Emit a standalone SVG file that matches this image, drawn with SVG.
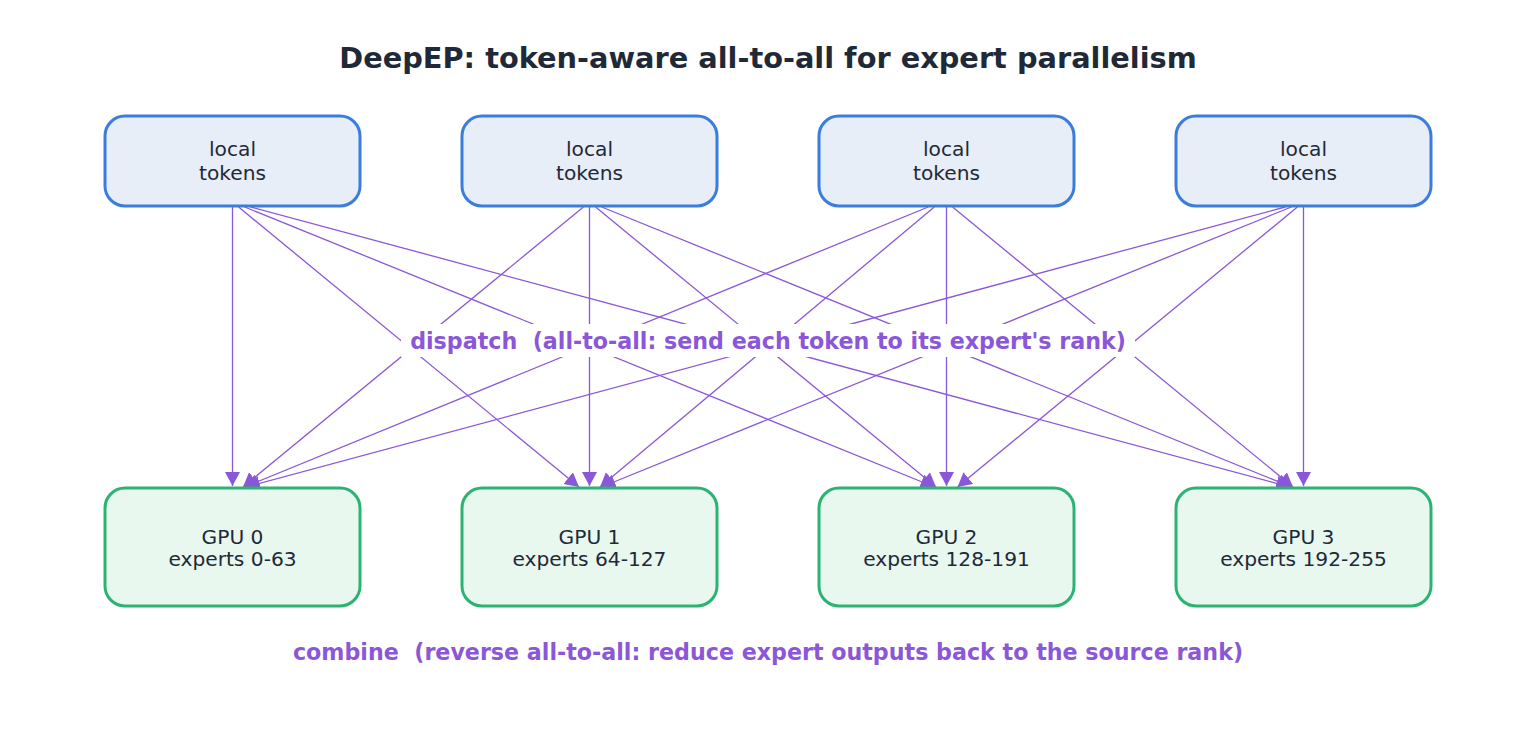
<svg xmlns="http://www.w3.org/2000/svg" width="1536" height="737" viewBox="0 0 1536 737">
<style>
.title{font-family:"DejaVu Sans",sans-serif;font-weight:bold;font-size:28.8px;fill:#1f2937;text-anchor:middle}
.lbl{font-family:"DejaVu Sans",sans-serif;font-size:20.2px;fill:#1f2937;text-anchor:middle}
.note{font-family:"DejaVu Sans",sans-serif;font-weight:bold;font-size:22.2px;fill:#8b57d9;text-anchor:middle;white-space:pre}
.src{fill:#e7eef8;stroke:#3b7ddd;stroke-width:3}
.gpu{fill:#e8f8ef;stroke:#2cb373;stroke-width:3}
.edge{stroke:#8b57d9;stroke-width:1.3;fill:none;marker-end:url(#arr)}
</style>
<defs>
<marker id="arr" markerUnits="userSpaceOnUse" markerWidth="16" markerHeight="16" refX="14" refY="7.5" orient="auto">
<path d="M0,0 L14,7.5 L0,15 Z" fill="#8b57d9"/>
</marker>
</defs>
<rect width="1536" height="737" fill="#ffffff"/>
<text class="title" x="768" y="68">DeepEP: token-aware all-to-all for expert parallelism</text>
<g id="connectors">
<line class="edge" x1="232.5" y1="207" x2="232.5" y2="486"/>
<line class="edge" x1="238.6" y1="207" x2="579" y2="487"/>
<line class="edge" x1="244.7" y1="207" x2="934.5" y2="487"/>
<line class="edge" x1="250.8" y1="207" x2="1290" y2="487"/>
<line class="edge" x1="583.4" y1="207" x2="243" y2="487"/>
<line class="edge" x1="589.5" y1="207" x2="589.5" y2="486"/>
<line class="edge" x1="595.6" y1="207" x2="936" y2="487"/>
<line class="edge" x1="601.7" y1="207" x2="1291.5" y2="487"/>
<line class="edge" x1="928.2" y1="207" x2="244.5" y2="487"/>
<line class="edge" x1="934.3" y1="207" x2="600" y2="487"/>
<line class="edge" x1="946.5" y1="207" x2="946.5" y2="486"/>
<line class="edge" x1="952.6" y1="207" x2="1293" y2="487"/>
<line class="edge" x1="1285.2" y1="207" x2="246" y2="487"/>
<line class="edge" x1="1291.3" y1="207" x2="601.5" y2="487"/>
<line class="edge" x1="1297.4" y1="207" x2="957.5" y2="487"/>
<line class="edge" x1="1303.5" y1="207" x2="1303.5" y2="486"/>
</g>
<g id="dispatch-label">
<rect x="401" y="324" width="734" height="33" fill="#ffffff"/>
<text class="note" x="768" y="349" xml:space="preserve">dispatch  (all-to-all: send each token to its expert's rank)</text>
</g>
<g id="src0"><rect class="src" x="105" y="116" width="255" height="90" rx="20"/><text class="lbl" x="232.5" y="156">local</text><text class="lbl" x="232.5" y="180">tokens</text></g>
<g id="src1"><rect class="src" x="462" y="116" width="255" height="90" rx="20"/><text class="lbl" x="589.5" y="156">local</text><text class="lbl" x="589.5" y="180">tokens</text></g>
<g id="src2"><rect class="src" x="819" y="116" width="255" height="90" rx="20"/><text class="lbl" x="946.5" y="156">local</text><text class="lbl" x="946.5" y="180">tokens</text></g>
<g id="src3"><rect class="src" x="1176" y="116" width="255" height="90" rx="20"/><text class="lbl" x="1303.5" y="156">local</text><text class="lbl" x="1303.5" y="180">tokens</text></g>
<g id="gpu0"><rect class="gpu" x="105" y="488" width="255" height="118" rx="20"/><text class="lbl" x="232.5" y="544">GPU 0</text><text class="lbl" x="232.5" y="566">experts 0-63</text></g>
<g id="gpu1"><rect class="gpu" x="462" y="488" width="255" height="118" rx="20"/><text class="lbl" x="589.5" y="544">GPU 1</text><text class="lbl" x="589.5" y="566">experts 64-127</text></g>
<g id="gpu2"><rect class="gpu" x="819" y="488" width="255" height="118" rx="20"/><text class="lbl" x="946.5" y="544">GPU 2</text><text class="lbl" x="946.5" y="566">experts 128-191</text></g>
<g id="gpu3"><rect class="gpu" x="1176" y="488" width="255" height="118" rx="20"/><text class="lbl" x="1303.5" y="544">GPU 3</text><text class="lbl" x="1303.5" y="566">experts 192-255</text></g>
<text class="note" x="768" y="660" xml:space="preserve">combine  (reverse all-to-all: reduce expert outputs back to the source rank)</text>
</svg>
